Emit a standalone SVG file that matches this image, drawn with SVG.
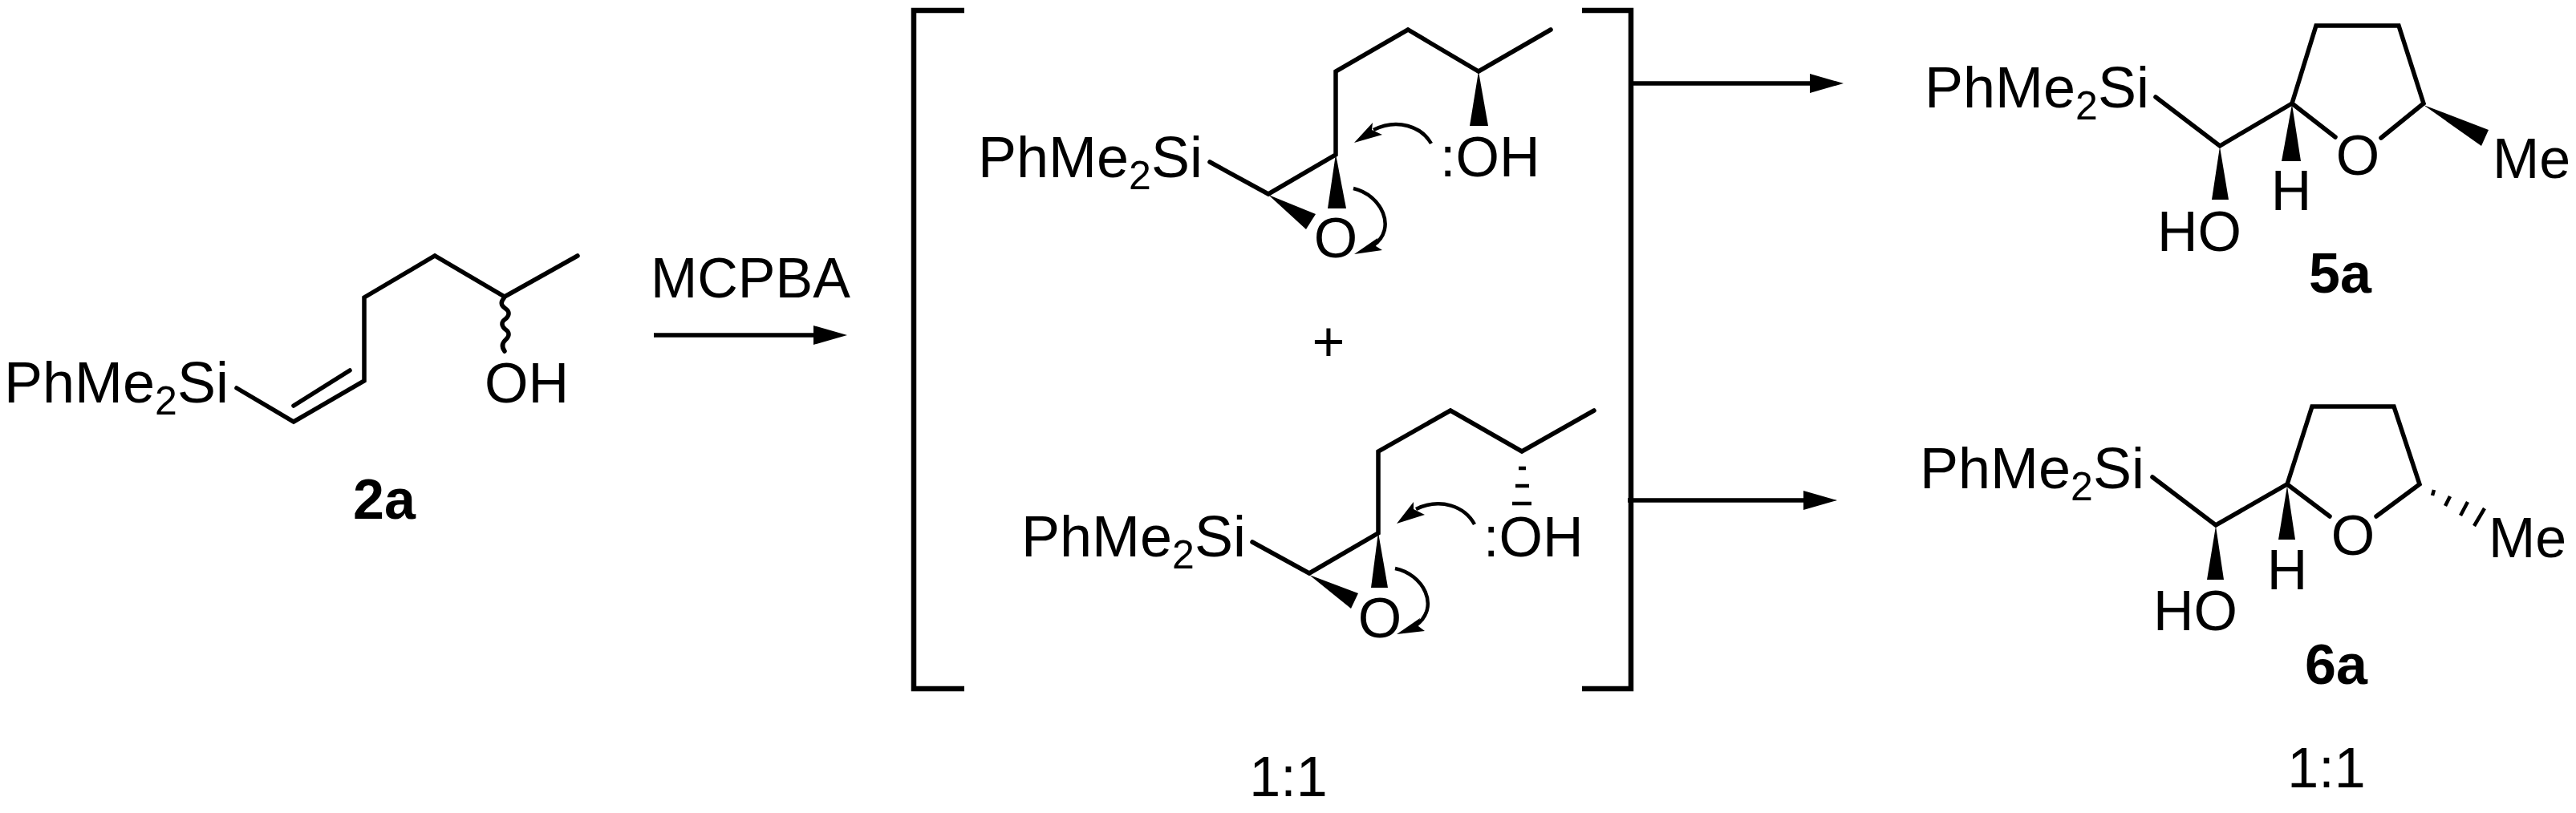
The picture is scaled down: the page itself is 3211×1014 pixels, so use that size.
<svg xmlns="http://www.w3.org/2000/svg" width="3211" height="1014" viewBox="0 0 3211 1014">
<style>
text{font-family:"Liberation Sans",Arial,sans-serif;font-size:70px;fill:#000}
text.si{font-size:72px}
.m{text-anchor:middle}
.b{font-weight:bold}
.s{font-size:50px}
.bond{fill:none;stroke:#000;stroke-width:5.5;stroke-linecap:round;stroke-linejoin:miter}
.brk{fill:none;stroke:#000;stroke-width:6.5}
.w{fill:#000}
.hash{fill:none;stroke:#000;stroke-width:4.5}
.curl{fill:none;stroke:#000;stroke-width:4.5}
.arr{fill:none;stroke:#000;stroke-width:5.5;marker-end:url(#head)}
</style>
<defs>
<marker id="head" markerUnits="userSpaceOnUse" markerWidth="44" markerHeight="28" refX="0" refY="14" orient="auto"><path d="M0 2L42 14L0 26Z" fill="#000"/></marker>
</defs>
<rect width="3211" height="1014" fill="#fff"/>
<g id="connectors">
<path class="arr" d="M815 418H1014"/>
<path class="arr" d="M2036 104H2256"/>
<path class="arr" d="M2029 624H2248"/>
</g>
<g id="reagent"><text x="811" y="371">MCPBA</text></g>
<g id="node-2a">
<text class="si" x="5" y="502">PhMe<tspan class="s" dy="15">2</tspan><tspan dy="-15">Si</tspan></text>
<path class="bond" d="M295 484L366 526L454 475V371L542 319L629 370L720 319"/>
<path class="bond" d="M366 506L436 462"/>
<path class="bond" d="M628 372q-6 7 1 12q9 6 2 13q-9 6-2 13q9 6 2 13q-8 7-2 15"/>
<text x="604" y="502">OH</text>
<text class="m b" x="479" y="647">2a</text>
</g>
<g id="brackets">
<path class="brk" d="M1202 13H1139V859H1202"/>
<path class="brk" d="M1972 13H2033V859H1972"/>
</g>
<g id="epoxide-top">
<text class="si" x="1219" y="221">PhMe<tspan class="s" dy="15">2</tspan><tspan dy="-15">Si</tspan></text>
<path class="bond" d="M1508 202L1581 242L1665 193V89L1755 37L1843 89L1933 37"/>
<polygon class="w" points="1843,89 1832,157 1855,157"/>
<polygon class="w" points="1665,192 1655,260 1678,260"/>
<polygon class="w" points="1581,243 1640,267 1628,286"/>
<text class="m" x="1665" y="321">O</text>
<text x="1795" y="220">:OH</text>
<path class="curl" d="M1784 179C1772 158 1742 147 1712 162"/>
<polygon class="w" points="1688,178 1711,153 1710,162 1723,168"/>
<path class="curl" d="M1687 235C1722 243 1742 285 1712 306"/>
<polygon class="w" points="1688,317 1717,297 1715,307 1723,312"/>
</g>
<g id="plus"><text class="m" x="1656" y="450">+</text></g>
<g id="epoxide-bottom">
<text class="si" x="1273" y="694">PhMe<tspan class="s" dy="15">2</tspan><tspan dy="-15">Si</tspan></text>
<path class="bond" d="M1561 676L1632 715L1718 665V563L1808 512L1897 563L1987 512"/>
<path class="hash" d="M1893 584H1902M1889 606H1906M1885 628H1909"/>
<polygon class="w" points="1718,664 1709,733 1730,733"/>
<polygon class="w" points="1632,717 1693,740 1684,759"/>
<text class="m" x="1720" y="795">O</text>
<text x="1849" y="694">:OH</text>
<path class="curl" d="M1838 654C1826 632 1796 620 1765 635"/>
<polygon class="w" points="1741,653 1762,626 1762,635 1776,642"/>
<path class="curl" d="M1739 709C1774 716 1796 757 1765 780"/>
<polygon class="w" points="1741,791 1770,771 1768,781 1776,787"/>
</g>
<g id="ratio-left"><text class="m" x="1606" y="993">1:1</text></g>
<g id="node-5a">
<text class="si" x="2399" y="134">PhMe<tspan class="s" dy="15">2</tspan><tspan dy="-15">Si</tspan></text>
<path class="bond" d="M2687 121L2767 182L2857 129L2887 32H2990L3021 129L2968 172"/>
<path class="bond" d="M2857 129L2911 171"/>
<polygon class="w" points="2857,130 2844,201 2868,201"/>
<polygon class="w" points="2767,183 2757,249 2778,249"/>
<polygon class="w" points="3021,131 3102,162 3093,182"/>
<text class="m" x="2939" y="218">O</text>
<text class="m" x="2856" y="262">H</text>
<text x="2689" y="313">HO</text>
<text x="3107" y="222">Me</text>
<text class="m b" x="2917" y="365">5a</text>
</g>
<g id="node-6a">
<text class="si" x="2393" y="609">PhMe<tspan class="s" dy="15">2</tspan><tspan dy="-15">Si</tspan></text>
<path class="bond" d="M2683 595L2762 655L2851 604L2882 507H2984L3016 604L2962 644"/>
<path class="bond" d="M2851 604L2904 644"/>
<polygon class="w" points="2851,606 2840,673 2861,673"/>
<polygon class="w" points="2762,656 2751,723 2772,723"/>
<path class="hash" d="M3034 611L3032 618M3054 619L3048 631M3076 626L3067 643M3097 634L3084 656"/>
<text class="m" x="2933" y="692">O</text>
<text class="m" x="2851" y="735">H</text>
<text x="2684" y="786">HO</text>
<text x="3102" y="695">Me</text>
<text class="m b" x="2912" y="853">6a</text>
<text class="m" x="2900" y="982">1:1</text>
</g>
</svg>
